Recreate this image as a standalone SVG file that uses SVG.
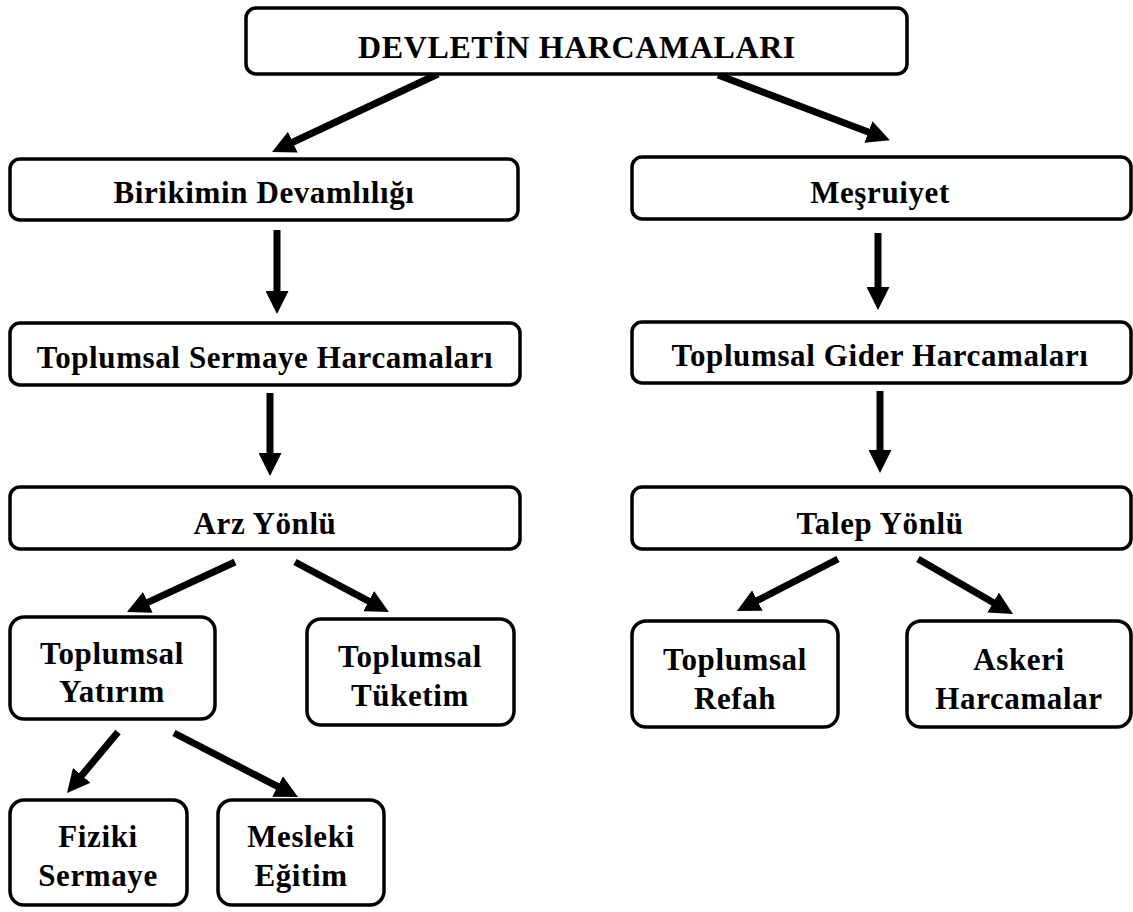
<svg xmlns="http://www.w3.org/2000/svg" width="1133" height="912" viewBox="0 0 1133 912">
<style>
.box{fill:#fff;stroke:#000;stroke-width:3.5}
.t{font-family:"Liberation Serif","Times New Roman",serif;font-weight:bold;font-size:31px;letter-spacing:0.6px;fill:#000;text-anchor:middle}
.title{font-size:32px}
.c{stroke:#000;stroke-width:7;fill:none;marker-end:url(#ah)}
</style>
<defs>
<marker id="ah" viewBox="0 0 23 23" refX="9" refY="11.5" markerWidth="23" markerHeight="23" markerUnits="userSpaceOnUse" orient="auto">
<path d="M0,0 L23,11.5 L0,23 Z" fill="#000"/>
</marker>
</defs>
<rect width="1133" height="912" fill="#fff"/>
<g id="connectors">
<line class="c" x1="438" y1="74" x2="284.7" y2="146"/>
<line class="c" x1="718" y1="75" x2="876.8" y2="135.3"/>
<line class="c" x1="277" y1="230" x2="277" y2="300"/>
<line class="c" x1="878" y1="233" x2="878" y2="296"/>
<line class="c" x1="270" y1="393" x2="270" y2="462"/>
<line class="c" x1="880" y1="391" x2="880" y2="459"/>
<line class="c" x1="235" y1="562" x2="139.7" y2="606.1"/>
<line class="c" x1="295" y1="562" x2="376.6" y2="605.4"/>
<line class="c" x1="838" y1="559" x2="749.4" y2="604.6"/>
<line class="c" x1="918" y1="559" x2="1000.9" y2="607"/>
<line class="c" x1="118" y1="732" x2="76" y2="782.3"/>
<line class="c" x1="174" y1="733" x2="285.6" y2="790.6"/>
</g>
<g id="n-devlet"><rect class="box" x="246" y="8" width="661" height="66" rx="10"/><text class="t title" x="577" y="58">DEVLETİN HARCAMALARI</text></g>
<g id="n-birikim"><rect class="box" x="10" y="159" width="508" height="61" rx="10"/><text class="t" x="264" y="203">Birikimin Devamlılığı</text></g>
<g id="n-mesruiyet"><rect class="box" x="632" y="157" width="499" height="62" rx="10"/><text class="t" x="880" y="203">Meşruiyet</text></g>
<g id="n-sermaye"><rect class="box" x="10" y="323" width="510" height="62" rx="10"/><text class="t" x="265" y="368">Toplumsal Sermaye Harcamaları</text></g>
<g id="n-gider"><rect class="box" x="632" y="322" width="499" height="61" rx="10"/><text class="t" x="880" y="366">Toplumsal Gider Harcamaları</text></g>
<g id="n-arz"><rect class="box" x="10" y="487" width="510" height="62" rx="10"/><text class="t" x="265" y="534">Arz Yönlü</text></g>
<g id="n-talep"><rect class="box" x="632" y="487" width="499" height="62" rx="10"/><text class="t" x="880" y="534">Talep Yönlü</text></g>
<g id="n-yatirim"><rect class="box" x="10" y="617" width="205" height="102" rx="14"/><text class="t" x="112" y="664">Toplumsal</text><text class="t" x="112" y="702">Yatırım</text></g>
<g id="n-tuketim"><rect class="box" x="307" y="619" width="207" height="106" rx="14"/><text class="t" x="410" y="667">Toplumsal</text><text class="t" x="410" y="706">Tüketim</text></g>
<g id="n-refah"><rect class="box" x="632" y="621" width="206" height="106" rx="14"/><text class="t" x="735" y="670">Toplumsal</text><text class="t" x="735" y="709">Refah</text></g>
<g id="n-askeri"><rect class="box" x="907" y="621" width="224" height="106" rx="14"/><text class="t" x="1019" y="670">Askeri</text><text class="t" x="1019" y="709">Harcamalar</text></g>
<g id="n-fiziki"><rect class="box" x="10" y="800" width="177" height="105" rx="14"/><text class="t" x="98" y="847">Fiziki</text><text class="t" x="98" y="886">Sermaye</text></g>
<g id="n-mesleki"><rect class="box" x="218" y="800" width="166" height="105" rx="14"/><text class="t" x="301" y="847">Mesleki</text><text class="t" x="301" y="886">Eğitim</text></g>
</svg>
